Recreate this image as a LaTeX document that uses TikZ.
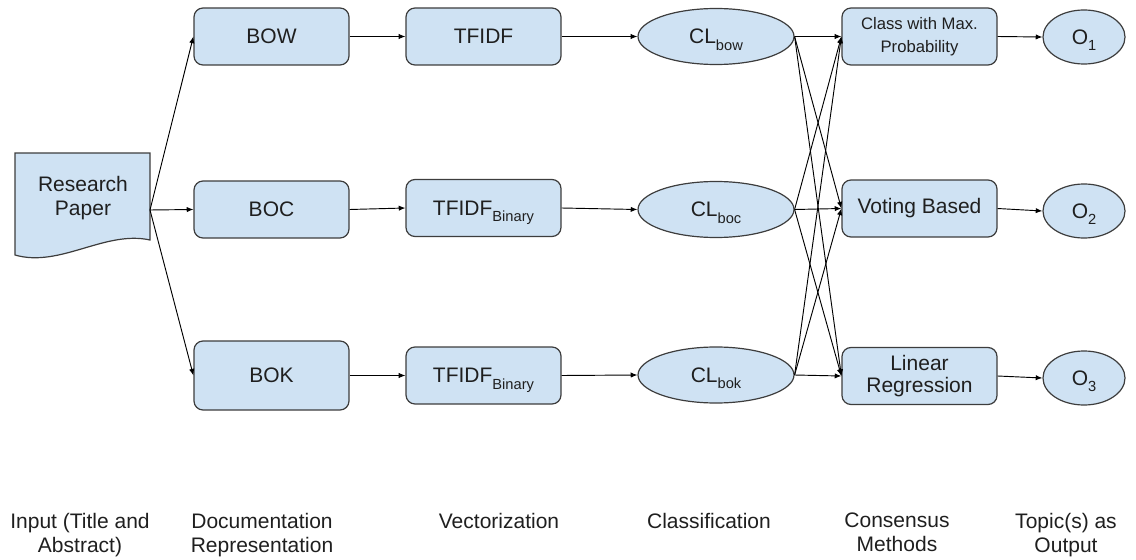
\documentclass[tikz,border=0pt]{standalone}
\usepackage{fontspec}
\setmainfont{Liberation Sans}
\usetikzlibrary{shapes.geometric,arrows.meta}
\definecolor{boxfill}{HTML}{CFE2F3}
\definecolor{boxline}{HTML}{3D3D3D}
\definecolor{ink}{HTML}{1F1F1F}
% lowered, smaller subscript text
\newcommand\sbx[1]{\raisebox{-5pt}[0pt][0pt]{\fontsize{11}{11}\selectfont #1}}

\begin{document}
\begin{tikzpicture}[x=0.75pt,y=-0.75pt,
  every node/.style={text=ink, font=\fontsize{15.75}{18}\selectfont},
  box/.style={draw=boxline, line width=0.9pt, fill=boxfill, rounded corners=6.75pt,
    minimum width=116.25pt, minimum height=42.75pt, inner sep=0pt, align=center},
  oval/.style={ellipse, draw=boxline, line width=0.9pt, fill=boxfill,
    minimum width=117pt, minimum height=42pt, inner sep=0pt},
  outoval/.style={oval, minimum width=61.5pt, minimum height=40.5pt},
  link/.style={draw=black, line width=0.7pt, -{Latex[length=5pt,width=4pt]}},
  caption/.style={anchor=north, align=center, inner sep=0pt}]

\useasboundingbox (0,0) rectangle (1136,560);

% input document with wavy bottom edge
\path[draw=boxline, line width=0.9pt, fill=boxfill]
  (15,153) -- (150,153) -- (150,240)
  .. controls (105,230) and (60,268) .. (15,255) -- cycle;
\node[align=center] (paper) at (83,198) {Research\\Paper};
\coordinate (docout) at (150,210);

% document representations
\node[box] (bow) at (271.5,36.5) {BOW};
\node[box] (boc) at (271.5,209.5) {BOC};
\node[box, minimum height=51.75pt] (bok) at (271.5,375.5) {BOK};

% vectorization
\node[box] (tf1) at (483.5,36.5) {TFIDF};
\node[box] (tf2) at (483.5,208) {TFIDF\sbx{Binary}};
\node[box] (tf3) at (483.5,375.5) {TFIDF\sbx{Binary}};

% classifiers
\node[oval] (clw) at (716,36.5) {CL\sbx{bow}};
\node[oval] (clc) at (716,209.5) {CL\sbx{boc}};
\node[oval] (clk) at (716,375) {CL\sbx{bok}};

% consensus methods
\node[box, font=\fontsize{12.5}{17}\selectfont] (maxp) at (919.5,36.5) {Class with Max.\\Probability};
\node[box] (vote) at (919.5,208.5) {Voting Based};
\node[box, font=\fontsize{15.75}{17}\selectfont] (linr) at (919.5,376) {Linear\\Regression};

% outputs
\node[outoval] (o1) at (1084,37) {O\sbx{1}};
\node[outoval] (o2) at (1084,211) {O\sbx{2}};
\node[outoval] (o3) at (1084,378) {O\sbx{3}};

% connectors
\foreach \t in {bow,boc,bok} \draw[link] (docout) -- (\t.west);
\draw[link] (bow.east) -- (tf1.west);
\draw[link] (boc.east) -- (tf2.west);
\draw[link] (bok.east) -- (tf3.west);
\draw[link] (tf1.east) -- (clw.west);
\draw[link] (tf2.east) -- (clc.west);
\draw[link] (tf3.east) -- (clk.west);
\foreach \s in {clw,clc,clk}
  \foreach \t in {maxp,vote,linr}
    \draw[link] (\s.east) -- (\t.west);
\draw[link] (maxp.east) -- (o1.west);
\draw[link] (vote.east) -- (o2.west);
\draw[link] (linr.east) -- (o3.west);

% stage captions
\node[caption] (c1) at (80,513) {Input (Title and\\Abstract)};
\node[caption] (c2) at (262,513) {Documentation\\Representation};
\node[caption] (c3) at (499,513) {Vectorization};
\node[caption] (c4) at (709,513) {Classification};
\node[caption] (c5) at (897,513) {Consensus\\Methods};
\node[caption] (c6) at (1066,513) {Topic(s) as\\Output};
\end{tikzpicture}
\end{document}
